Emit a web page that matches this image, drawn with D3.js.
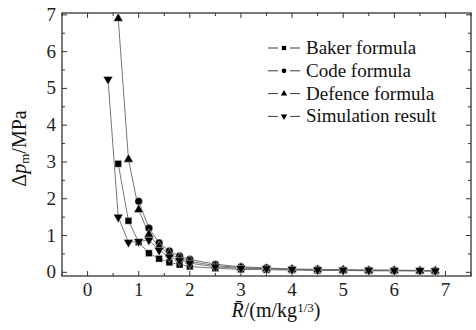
<!DOCTYPE html>
<html>
<head>
<meta charset="utf-8">
<script src="https://cdn.jsdelivr.net/npm/d3@7"></script>
</head>
<body style="margin:0">
<svg id="chart" width="476" height="330" font-family="'Times New Roman', 'Liberation Serif', Tinos"></svg>
<script>
// series data
const bakerX = [0.6, 0.8, 1.0, 1.2, 1.4, 1.6, 1.8, 2.0, 2.5, 3.0, 3.5, 4.0, 4.5, 5.0, 5.5, 6.0, 6.5, 6.8]
const bakerY = [2.95, 1.4, 0.82, 0.52, 0.37, 0.27, 0.21, 0.16, 0.11, 0.08, 0.07, 0.06, 0.05, 0.05, 0.04, 0.04, 0.04, 0.03]
const codeX = [1.0, 1.2, 1.4, 1.6, 1.8, 2.0, 2.5, 3.0, 3.5, 4.0, 4.5, 5.0, 5.5, 6.0, 6.5, 6.8]
const codeY = [1.93, 1.2, 0.8, 0.58, 0.44, 0.35, 0.22, 0.15, 0.12, 0.09, 0.08, 0.07, 0.06, 0.06, 0.05, 0.05]
const defenceX = [0.6, 0.8, 1.0, 1.2, 1.4, 1.6, 1.8, 2.0, 2.5, 3.0, 3.5, 4.0, 4.5, 5.0, 5.5, 6.0, 6.5, 6.8]
const defenceY = [6.9, 3.07, 1.7, 1.03, 0.7, 0.5, 0.38, 0.3, 0.18, 0.13, 0.1, 0.08, 0.07, 0.06, 0.05, 0.05, 0.04, 0.04]
const simX = [0.4, 0.6, 0.8, 1.0, 1.2, 1.4, 1.6, 1.8, 2.0, 2.5, 3.0, 3.5, 4.0, 4.5, 5.0, 5.5, 6.0, 6.5, 6.8]
const simY = [5.25, 1.5, 0.82, 0.84, 0.88, 0.6, 0.42, 0.32, 0.25, 0.15, 0.11, 0.1, 0.08, 0.07, 0.06, 0.06, 0.05, 0.05, 0.04]

const seriesNames = ['Baker formula', 'Code formula', 'Defence formula', 'Simulation result']
const xTicks = [0, 1, 2, 3, 4, 5, 6, 7]
const yTicks = [0, 1, 2, 3, 4, 5, 6, 7]

const W = 476, H = 330
const margin = { top: 13, right: 5, bottom: 54, left: 62 }
const FONT = "'Times New Roman', 'Liberation Serif', Tinos"

const svg = d3.select('#chart')

const x = d3.scaleLinear().domain([-0.5, 7.5]).range([margin.left, W - margin.right])
const y = d3.scaleLinear().domain([-0.1, 7.05]).range([H - margin.bottom, margin.top])

const series = [
  { name: seriesNames[0], xs: bakerX, ys: bakerY, shape: d3.symbolSquare, size: 46, rot: 0 },
  { name: seriesNames[1], xs: codeX, ys: codeY, shape: d3.symbolCircle, size: 46, rot: 0 },
  { name: seriesNames[2], xs: defenceX, ys: defenceY, shape: d3.symbolTriangle, size: 40, rot: 0 },
  { name: seriesNames[3], xs: simX, ys: simY, shape: d3.symbolTriangle, size: 40, rot: 180 },
]

const axisColor = '#333'

// minor + major ticks, inward, on all four sides
const minorX = d3.range(-0.5, 7.51, 0.5).filter((v) => !xTicks.includes(v))
const minorY = d3.range(0.5, 7.01, 0.5).filter((v) => !yTicks.includes(v))
const x0 = x.range()[0], x1 = x.range()[1]
const y0 = y.range()[0], y1 = y.range()[1]

const ticks = svg.append('g').attr('stroke', axisColor).attr('stroke-width', 1)
function xTick(v, len) {
  ticks.append('line').attr('x1', x(v)).attr('x2', x(v)).attr('y1', y0).attr('y2', y0 - len)
  ticks.append('line').attr('x1', x(v)).attr('x2', x(v)).attr('y1', y1).attr('y2', y1 + len)
}
function yTick(v, len) {
  ticks.append('line').attr('y1', y(v)).attr('y2', y(v)).attr('x1', x0).attr('x2', x0 + len)
  ticks.append('line').attr('y1', y(v)).attr('y2', y(v)).attr('x1', x1).attr('x2', x1 - len)
}
xTicks.forEach((v) => xTick(v, 5))
minorX.forEach((v) => xTick(v, 3))
yTicks.forEach((v) => yTick(v, 5))
minorY.forEach((v) => yTick(v, 3))

// frame
svg.append('rect')
  .attr('x', x0).attr('y', y1)
  .attr('width', x1 - x0).attr('height', y0 - y1)
  .attr('fill', 'none')
  .attr('stroke', axisColor)
  .attr('stroke-width', 1.3)

// tick labels
svg.selectAll('text.xt').data(xTicks).join('text')
  .attr('class', 'xt')
  .attr('x', (d) => x(d)).attr('y', y0 + 20)
  .attr('text-anchor', 'middle')
  .style('font-family', FONT)
  .style('font-size', '19px')
  .attr('fill', '#222')
  .text((d) => d)

svg.selectAll('text.yt').data(yTicks).join('text')
  .attr('class', 'yt')
  .attr('x', x0 - 6).attr('y', (d) => y(d) + 6)
  .attr('text-anchor', 'end')
  .style('font-family', FONT)
  .style('font-size', '19px')
  .attr('fill', '#222')
  .text((d) => d)

// lines
const line = d3.line().x((d) => x(d[0])).y((d) => y(d[1]))
series.forEach((s) => {
  const pts = s.xs.map((v, i) => [v, s.ys[i]])
  svg.append('path')
    .datum(pts)
    .attr('d', line)
    .attr('fill', 'none')
    .attr('stroke', '#666')
    .attr('stroke-width', 0.9)
})

// markers
series.forEach((s) => {
  const sym = d3.symbol().type(s.shape).size(s.size)
  const pts = s.xs.map((v, i) => [v, s.ys[i]])
  svg.append('g').selectAll('path').data(pts).join('path')
    .attr('d', sym)
    .attr('transform', (d) => `translate(${x(d[0])},${y(d[1])}) rotate(${s.rot})`)
    .attr('fill', '#000')
    .attr('stroke', '#fff')
    .attr('stroke-width', 0.4)
})

// legend
const rowH = 22.8
series.forEach((s, i) => {
  const ly = 48 + i * rowH
  svg.append('line').attr('x1', 268).attr('x2', 278).attr('y1', ly).attr('y2', ly).attr('stroke', '#222').attr('stroke-width', 0.9)
  svg.append('line').attr('x1', 290).attr('x2', 300).attr('y1', ly).attr('y2', ly).attr('stroke', '#222').attr('stroke-width', 0.9)
  svg.append('path')
    .attr('d', d3.symbol().type(s.shape).size(18))
    .attr('transform', `translate(284,${ly}) rotate(${s.rot})`)
    .attr('fill', '#000')
  svg.append('text')
    .attr('x', 306).attr('y', ly + 6)
    .style('font-family', FONT)
    .style('font-size', '19px')
    .attr('fill', '#111')
    .text(s.name)
})

// y axis title
const yTitle = svg.append('text')
  .attr('transform', `translate(26,${(y0 + y1) / 2 + 4}) rotate(-90)`)
  .attr('text-anchor', 'middle')
  .style('font-family', FONT)
  .style('font-size', '20px')
  .attr('fill', '#111')
yTitle.append('tspan').text('Δ')
yTitle.append('tspan').style('font-style', 'italic').text('p')
yTitle.append('tspan').attr('baseline-shift', '-25%').style('font-size', '13px').text('m')
yTitle.append('tspan').text('/MPa')

// x axis title
const xTitle = svg.append('text')
  .attr('x', 276).attr('y', 317)
  .attr('text-anchor', 'middle')
  .style('font-family', FONT)
  .style('font-size', '20px')
  .attr('fill', '#111')
xTitle.append('tspan').style('font-style', 'italic').text('R\u0304')
xTitle.append('tspan').text('/(m/kg')
xTitle.append('tspan').attr('baseline-shift', '40%').style('font-size', '13px').text('1/3')
xTitle.append('tspan').text(')')
</script>
</body>
</html>
